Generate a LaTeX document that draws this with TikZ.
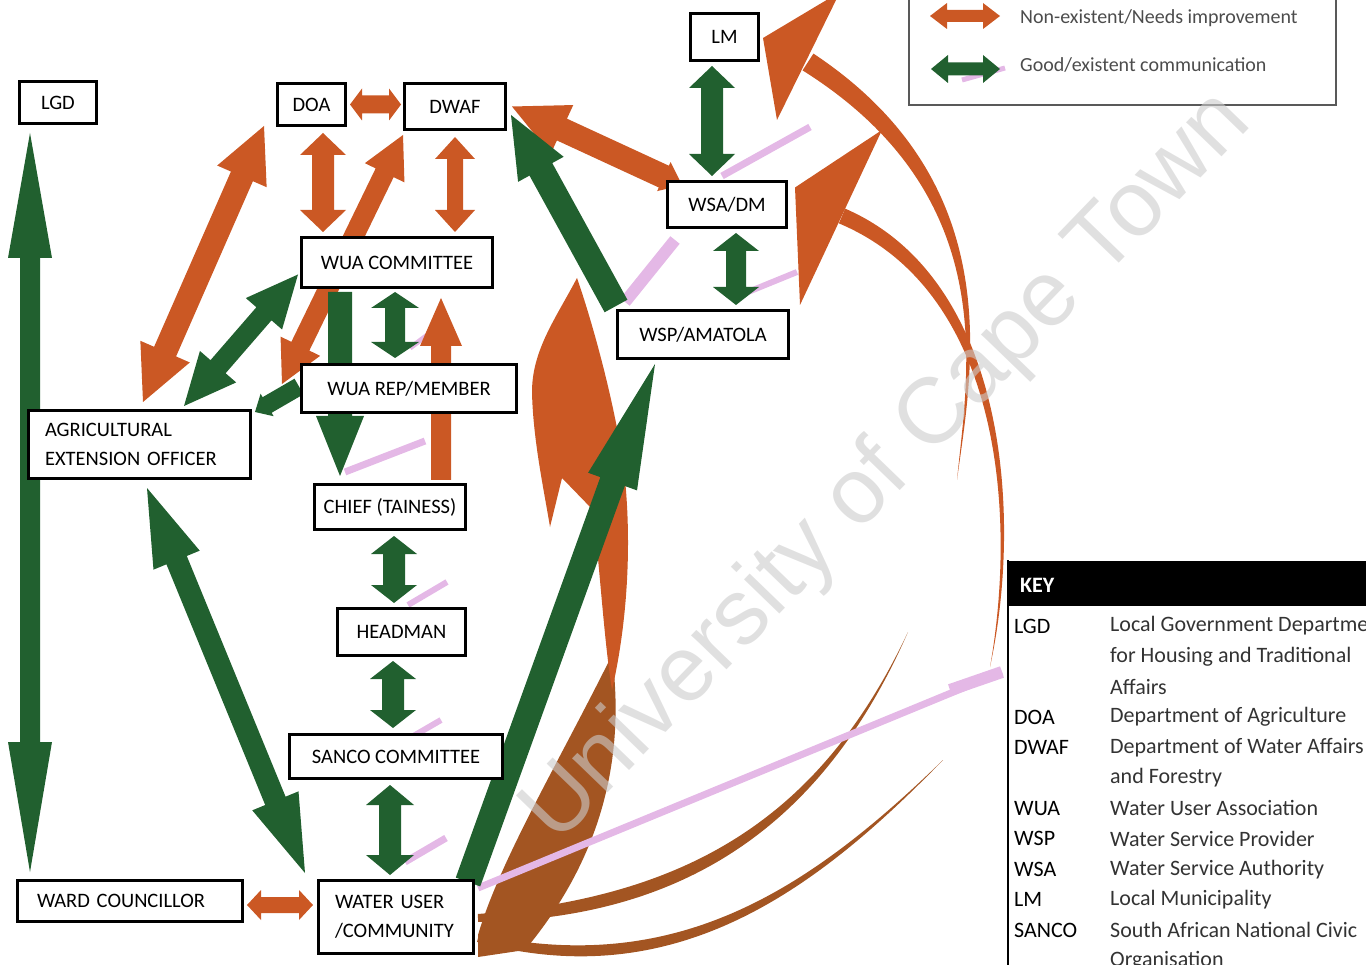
\documentclass[tikz,border=0pt]{standalone}
\usepackage{fontspec}
\setmainfont{Carlito}
\newfontfamily\markfont{Liberation Sans}
\usetikzlibrary{calc}
\definecolor{grn}{RGB}{33,96,47}
\definecolor{org}{RGB}{203,88,36}
\definecolor{brn}{RGB}{163,85,34}
\definecolor{pnk}{RGB}{228,184,230}
\pgfdeclarelayer{back}
\pgfdeclarelayer{front}
\pgfsetlayers{back,main,front}

% block arrow: #1 colour, #2 start, #3 end, #4 half shaft width,
% #5/#6 head length at start/end, #7/#8 half head width at start/end
\newcommand\fatarrow[8]{%
  \path (#2) coordinate (fa) (#3) coordinate (fb);
  \path ($(fa)!#5!(fb)$) coordinate (fa1) ($(fb)!#6!(fa)$) coordinate (fb1);
  \fill[#1] (fa) -- ($(fa1)!#7!90:(fb)$) -- ($(fa1)!#4!90:(fb)$)
    -- ($(fb1)!#4!-90:(fa)$) -- ($(fb1)!#8!-90:(fa)$) -- (fb)
    -- ($(fb1)!#8!90:(fa)$) -- ($(fb1)!#4!90:(fa)$)
    -- ($(fa1)!#4!-90:(fb)$) -- ($(fa1)!#7!-90:(fb)$) -- cycle;}

% tapered ribbon along a cubic curve: #1 colour, #2..#5 curve points,
% #6..#9 half widths at those points
\newcommand\taper[9]{%
  \path (#2) coordinate (tpA) (#3) coordinate (tpB) (#4) coordinate (tpC) (#5) coordinate (tpD);
  \path ($(tpA)!#6!90:(tpB)$) coordinate (tpA1) ($(tpA)!#6!-90:(tpB)$) coordinate (tpA2)
        ($(tpD)!#9!-90:(tpC)$) coordinate (tpD1) ($(tpD)!#9!90:(tpC)$) coordinate (tpD2)
        ($(tpA)!#7!90:(tpB)$) coordinate (tqB1) ($(tpA)!#7!-90:(tpB)$) coordinate (tqB2)
        ($(tpD)!#8!-90:(tpC)$) coordinate (tqC1) ($(tpD)!#8!90:(tpC)$) coordinate (tqC2);
  \fill[#1] (tpA1) .. controls ($(tpB)+(tqB1)-(tpA)$) and ($(tpC)+(tqC1)-(tpD)$) .. (tpD1)
    -- (tpD2) .. controls ($(tpC)+(tqC2)-(tpD)$) and ($(tpB)+(tqB2)-(tpA)$) .. (tpA2) -- cycle;}

\begin{document}
\begin{tikzpicture}[x=1pt,y=-1pt,
  box/.style={draw, line width=3pt, fill=white, inner sep=0pt, font=\fontsize{20.5}{29}\selectfont},
  legtxt/.style={anchor=west, inner sep=0pt, text=black!70, font=\fontsize{20}{24}\selectfont},
  keyab/.style={anchor=west, inner sep=0pt, font=\fontsize{22}{26}\selectfont},
  keytx/.style={anchor=west, inner sep=0pt, text=black!80, font=\fontsize{22}{26}\selectfont},
  pinkline/.style={draw=pnk, line width=#1},
]
\useasboundingbox (0,0) rectangle (1366,965);

% ---------- boxes ----------
\node[box, minimum width=77pt, minimum height=42pt] (lgd) at (58,102.5) {LGD};
\node[box, minimum width=68pt, minimum height=42pt] (doa) at (311.5,104.5) {DOA};
\node[box, minimum width=101pt, minimum height=46pt] (dwaf) at (455,106.5) {DWAF};
\node[box, minimum width=68pt, minimum height=47pt] (lm) at (724.5,37) {LM};
\node[box, minimum width=119pt, minimum height=46pt] (wsa) at (727,204.5) {WSA/DM};
\node[box, minimum width=191pt, minimum height=50pt] (wuac) at (397,262.5) {WUA COMMITTEE};
\node[box, minimum width=171pt, minimum height=48pt] (wsp) at (703,334.5) {WSP/AMATOLA};
\node[box, minimum width=215pt, minimum height=48pt] (wuar) at (409,388.5) {WUA REP/MEMBER};
\node[box, minimum height=68pt, text width=189pt, inner xsep=16.5pt, align=left] (agri) at (139.5,444.5) {AGRICULTURAL\\EXTENSION OFFICER};
\node[box, minimum width=151pt, minimum height=45pt] (chief) at (390,507) {CHIEF (TAINESS)};
\node[box, minimum width=128pt, minimum height=47pt] (hdm) at (401.5,632) {HEADMAN};
\node[box, minimum width=213pt, minimum height=44pt] (sanco) at (396,756.5) {SANCO COMMITTEE};
\node[box, minimum height=41pt, text width=186pt, inner xsep=19.5pt, align=left] (ward) at (130,901) {WARD COUNCILLOR};
\node[box, minimum height=73pt, text width=122pt, inner xsep=16.5pt, align=left] (wuc) at (396,917) {WATER USER\\/COMMUNITY};

\begin{pgfonlayer}{back}
% ---------- long curved links from the community ----------
\taper{org}{808,62}{1008,191}{969,375}{957,480}{10pt}{7pt}{2pt}{0pt}
\fill[org] ($(lm.east)+(3,1)$) -- (840,-8) -- (777,120) -- cycle;
\taper{org}{842,216}{1004,285}{1020,515}{990,667}{8pt}{7pt}{3pt}{0pt}
\fill[org] ($(wsa.east)+(7,-17)$) -- (882,130) -- (800,305) -- cycle;
\taper{brn}{$(wuc.east)+(3,1)$}{687,908}{822,821}{908,632}{4pt}{11pt}{3pt}{0pt}
\taper{brn}{$(wuc.east)+(3,21)$}{674,986}{810,893}{943,760}{4pt}{9pt}{3pt}{0pt}
% twisted ribbon rising beside WSP
\fill[brn] (612,655) .. controls (626,760) and (600,860) .. (525,950)
  -- ($(wuc.east)+(3,40)$) -- ($(wuc.east)+(3,18)$)
  .. controls (500,860) and (560,760) .. (612,655) -- cycle;
\fill[org] (612,690) .. controls (628,620) and (632,540) .. (624,470)
  .. controls (616,410) and (595,330) .. (577,278)
  .. controls (556,318) and (532,350) .. (532,392)
  .. controls (533,440) and (544,490) .. (550,527)
  -- (562,478) -- (593,510) .. controls (600,570) and (604,640) .. (612,690) -- cycle;

% ---------- faint shadow strokes ----------
\path[pinkline=7pt] (478,888) -- (1002,672);
\path[pinkline=12pt] (950,690) -- (1002,672);
\path[pinkline=7pt] (405,862) -- (446,838);
\path[pinkline=6pt] (410,738) -- (441,720);
\path[pinkline=6pt] (408,605) -- (447,582);
\path[pinkline=7pt] (345,472) -- (425,441);
\path[pinkline=5pt] (410,348) -- (430,333);
\path[pinkline=12pt] (625,302) -- (675,240);
\path[pinkline=7pt] (722,176) -- (810,127);
\path[pinkline=6pt] (748,292) -- (797,272);
\path[pinkline=5pt] (962,80) -- (1005,68);

% ---------- weak links ----------
\fatarrow{org}{$(doa.east)+(3,0)$}{$(dwaf.west)+(-2,-2)$}{9pt}{12pt}{12pt}{16pt}{16pt}
\fatarrow{org}{$(doa.south)+(11.5,6)$}{$(wuac.north)+(-74,-4)$}{11pt}{22pt}{22pt}{23pt}{23pt}
\fatarrow{org}{$(dwaf.south)+(0,6)$}{$(wuac.north)+(58,-4)$}{8pt}{22pt}{22pt}{20pt}{20pt}
\fatarrow{org}{$(doa.south west)+(-12,-1)$}{$(agri.north)+(3.5,-7)$}{12pt}{55pt}{55pt}{27pt}{27pt}
\fatarrow{org}{$(dwaf.south west)+(0,4)$}{$(agri.north east)+(30,-25)$}{10pt}{42pt}{42pt}{22pt}{22pt}
\fatarrow{org}{$(chief.north)+(51,-3)$}{$(wuac.south)+(44,9)$}{10pt}{0pt}{48pt}{10pt}{21pt}
\fatarrow{org}{$(wsa.north west)+(16,5)$}{$(dwaf.east)+(5,0)$}{12pt}{20pt}{55pt}{16pt}{27pt}
\fatarrow{org}{$(ward.east)+(3,4)$}{$(wuc.west)+(-4,-12)$}{8pt}{14pt}{14pt}{15pt}{15pt}

% ---------- good links ----------
\fatarrow{grn}{$(lgd.south west)+(12,8)$}{$(ward.north west)+(14,-7)$}{10pt}{125pt}{130pt}{22pt}{22pt}
\fatarrow{grn}{$(agri.south)+(7.5,8)$}{$(wuc.north west)+(-12,-6)$}{11pt}{78pt}{78pt}{25pt}{25pt}
\fatarrow{grn}{$(wuac.west)+(-2,12)$}{$(agri.north east)+(-68,-3)$}{10pt}{52pt}{52pt}{24pt}{24pt}
\fatarrow{grn}{$(wuar.west)+(-1,-2)$}{$(agri.north east)+(3,3)$}{9pt}{0pt}{14pt}{9pt}{13pt}
\fatarrow{grn}{$(wuac.south west)+(40,3)$}{$(chief.north west)+(27,-7)$}{12pt}{0pt}{60pt}{12pt}{24pt}
\fatarrow{grn}{$(wuac.south)+(-2,3)$}{$(wuar.north)+(-14,-5)$}{10pt}{16pt}{16pt}{24pt}{24pt}
\fatarrow{grn}{$(chief.south)+(4,5)$}{$(hdm.north)+(-7.5,-4)$}{11pt}{18pt}{18pt}{23pt}{23pt}
\fatarrow{grn}{$(hdm.south)+(-8.5,4)$}{$(sanco.north)+(-3,-5)$}{11pt}{18pt}{18pt}{23pt}{23pt}
\fatarrow{grn}{$(sanco.south)+(-6,5)$}{$(wuc.north)+(-6,-4)$}{11pt}{20pt}{20pt}{24pt}{24pt}
\fatarrow{grn}{$(wuc.north east)+(-7,3)$}{$(wsp.south west)+(39,4)$}{13pt}{0pt}{125pt}{13pt}{26pt}
\fatarrow{grn}{$(wsp.north west)+(0,-3)$}{$(dwaf.south east)+(4,-16)$}{13pt}{0pt}{62pt}{13pt}{26pt}
\fatarrow{grn}{$(lm.south)+(-12.5,4)$}{$(wsa.north)+(-15,-4)$}{11pt}{22pt}{22pt}{23pt}{23pt}
\fatarrow{grn}{$(wsa.south)+(9,4)$}{$(wsp.north)+(33,-4)$}{10pt}{18pt}{18pt}{23pt}{23pt}
\end{pgfonlayer}

% ---------- legend ----------
\draw[black!65, line width=2.5pt] (909,-10) rectangle (1336,105);
\fatarrow{org}{930,16}{1000,16}{6pt}{17pt}{17pt}{13pt}{13pt}
\fatarrow{grn}{931,69}{1000,69}{6.5pt}{17pt}{17pt}{14pt}{14pt}
\node[legtxt] (leg1) at (1020,18) {Non-existent/Needs improvement};
\node[legtxt] (leg2) at (1020,65) {Good/existent communication};

% ---------- key table ----------
\fill (1008,561) rectangle (1370,606);
\draw[line width=2.5pt] (1008,560) -- (1008,970);
\node[anchor=west, inner sep=0pt, text=white, font=\bfseries\fontsize{22}{26}\selectfont] (keyhd) at (1020,585) {KEY};
\node[keyab] (ka1) at (1014,626) {LGD};
\node[keytx] (kt1) at (1110,626) {Local Government Department};
\node[keytx] (kt2) at (1110,656.4) {for Housing and Traditional};
\node[keytx] (kt3) at (1110,686.8) {Affairs};
\node[keyab] (ka2) at (1014,717.2) {DOA};
\node[keytx] (kt4) at (1110,717.2) {Department of Agriculture};
\node[keyab] (ka3) at (1014,747.6) {DWAF};
\node[keytx] (kt5) at (1110,747.6) {Department of Water Affairs};
\node[keytx] (kt6) at (1110,778) {and Forestry};
\node[keyab] (ka4) at (1014,808.4) {WUA};
\node[keytx] (kt7) at (1110,808.4) {Water User Association};
\node[keyab] (ka5) at (1014,838.8) {WSP};
\node[keytx] (kt8) at (1110,838.8) {Water Service Provider};
\node[keyab] (ka6) at (1014,869.2) {WSA};
\node[keytx] (kt9) at (1110,869.2) {Water Service Authority};
\node[keyab] (ka7) at (1014,899.6) {LM};
\node[keytx] (kt10) at (1110,899.6) {Local Municipality};
\node[keyab] (ka8) at (1014,930) {SANCO};
\node[keytx] (kt11) at (1110,930) {South African National Civic};
\node[keytx] (kt12) at (1110,960.4) {Organisation};

% ---------- watermark ----------
\begin{pgfonlayer}{front}
\node[rotate=46, text=black!20, opacity=0.6, inner sep=0pt,
      font=\markfont\fontsize{93}{93}\selectfont] (mark) at (888,468) {University of Cape Town};
\end{pgfonlayer}
\end{tikzpicture}
\end{document}
